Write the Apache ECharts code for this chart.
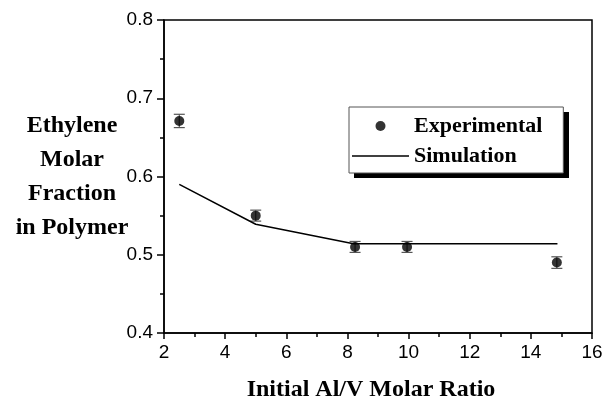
<!DOCTYPE html>
<html>
<head>
<meta charset="utf-8">
<script src="https://cdn.jsdelivr.net/npm/echarts@6/dist/echarts.min.js"></script>
<style>
html, body { margin: 0; padding: 0; background: #fff; }
#chart { width: 605px; height: 397px; }
</style>
</head>
<body>
<div id="chart"></div>
<script>
// measured points
var expX = [2.5, 5, 8.25, 9.95, 14.85];
var expY = [0.671, 0.550, 0.510, 0.510, 0.490];
var expErr = [0.0085, 0.007, 0.007, 0.007, 0.0074];
// model curve
var simX = [2.5, 5, 8.2, 14.87];
var simY = [0.590, 0.539, 0.514, 0.514];

var chart = echarts.init(document.getElementById('chart'));

var serif = 'Liberation Serif';
var sans = 'Liberation Sans';

var expData = expX.map(function (x, i) { return [x, expY[i]]; });
var simData = simX.map(function (x, i) { return [x, simY[i]]; });
var errData = expX.map(function (x, i) { return [x, expY[i] - expErr[i], expY[i] + expErr[i]]; });

var option = {
    animation: false,
    grid: {
        left: 164, right: 13, top: 20, bottom: 64,
        outerBoundsMode: 'none',
        show: true, borderColor: '#000', borderWidth: 1.5
    },
    // drop shadow behind the legend box
    graphic: [{
        type: 'rect', left: 354, top: 112, z: 1,
        shape: { width: 215, height: 66 },
        style: { fill: '#000' }
    }],
    legend: {
        orient: 'vertical',
        left: 349, top: 107,
        padding: [8, 21, 6, 3],
        itemWidth: 57, itemHeight: 10, itemGap: 8,
        selectedMode: false,
        backgroundColor: '#fff',
        borderColor: '#555', borderWidth: 1,
        textStyle: { fontFamily: serif, fontWeight: 'bold', fontSize: 22, color: '#000' },
        data: [
            { name: 'Experimental', icon: 'circle' },
            { name: 'Simulation', icon: 'path://M0,0H57V1.5H0Z' }
        ]
    },
    xAxis: {
        type: 'value', min: 2, max: 16, interval: 2,
        name: 'Initial Al/V Molar Ratio',
        nameLocation: 'middle', nameGap: 45,
        nameTextStyle: { fontFamily: serif, fontWeight: 'bold', fontSize: 24, color: '#000', padding: [0, 14, 0, 0] },
        axisLine: { lineStyle: { color: '#000', width: 1.5 } },
        axisTick: { length: 6, lineStyle: { color: '#000', width: 1.5 } },
        minorTick: { show: true, splitNumber: 2, length: 4, lineStyle: { color: '#000', width: 1.5 } },
        axisLabel: { fontFamily: sans, fontSize: 19, color: '#000', margin: 10 },
        splitLine: { show: false }
    },
    yAxis: {
        type: 'value', min: 0.4, max: 0.8, interval: 0.1,
        name: 'Ethylene\nMolar\nFraction\nin Polymer',
        nameLocation: 'middle', nameRotate: 0, nameGap: 92,
        nameMoveOverlap: false,
        nameTextStyle: {
            fontFamily: serif, fontWeight: 'bold', fontSize: 24, color: '#000',
            align: 'center', verticalAlign: 'middle', lineHeight: 34, padding: [4, 0, 0, 0]
        },
        axisLine: { show: true, lineStyle: { color: '#000', width: 1.5 } },
        axisTick: { length: 7, lineStyle: { color: '#000', width: 1.5 } },
        minorTick: { show: true, splitNumber: 2, length: 4, lineStyle: { color: '#000', width: 1.5 } },
        axisLabel: {
            fontFamily: sans, fontSize: 19, color: '#000', margin: 11,
            formatter: function (v) { return v.toFixed(1); }
        },
        splitLine: { show: false }
    },
    series: [
        {
            name: 'Experimental',
            type: 'scatter',
            data: expData,
            symbol: 'circle',
            symbolSize: 10,
            itemStyle: { color: '#000' },
            z: 3
        },
        {
            name: 'Simulation',
            type: 'line',
            data: simData,
            symbol: 'none',
            lineStyle: { color: '#000', width: 1.5 },
            itemStyle: { color: '#000' }
        },
        {
            type: 'custom',
            data: errData,
            renderItem: function (params, api) {
                var lo = api.coord([api.value(0), api.value(1)]);
                var hi = api.coord([api.value(0), api.value(2)]);
                var w = 5.5;
                var st = { stroke: '#555', lineWidth: 1.2 };
                return {
                    type: 'group',
                    children: [
                        { type: 'line', shape: { x1: lo[0], y1: lo[1], x2: hi[0], y2: hi[1] }, style: st },
                        { type: 'line', shape: { x1: lo[0] - w, y1: lo[1], x2: lo[0] + w, y2: lo[1] }, style: st },
                        { type: 'line', shape: { x1: hi[0] - w, y1: hi[1], x2: hi[0] + w, y2: hi[1] }, style: st }
                    ]
                };
            },
            z: 2
        }
    ]
};

chart.setOption(option);
window.addEventListener('resize', chart.resize);
</script>
</body>
</html>
